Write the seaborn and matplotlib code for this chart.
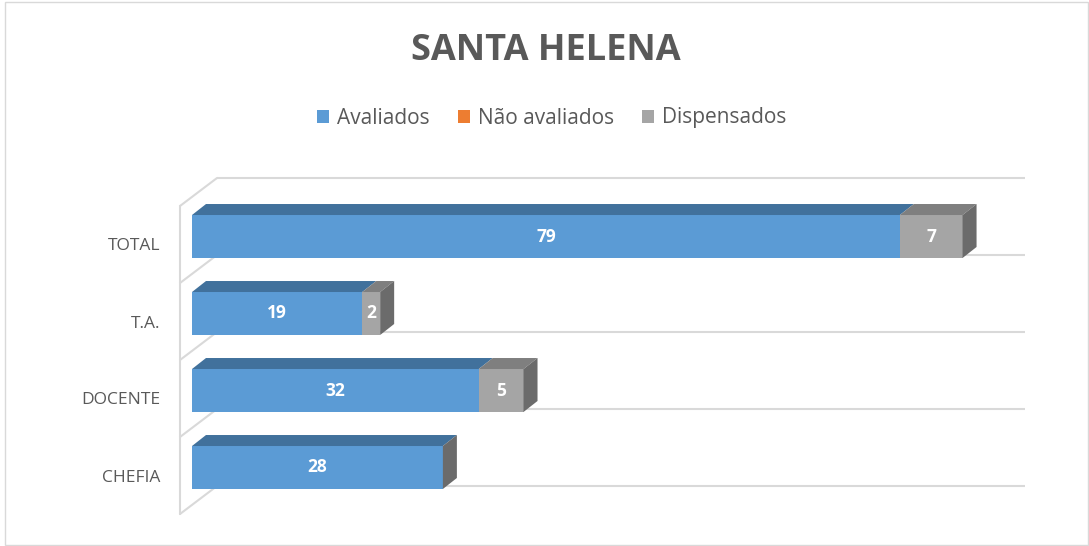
import matplotlib
matplotlib.use("Agg")
import matplotlib.pyplot as plt
from matplotlib.patches import Polygon, Patch, Rectangle
from matplotlib.transforms import ScaledTranslation
import seaborn as sns
import pandas as pd

# ---- data ----
categories = ["TOTAL", "T.A.", "DOCENTE", "CHEFIA"]
avaliados = [79, 19, 32, 28]
nao_avaliados = [0, 0, 0, 0]
dispensados = [7, 2, 5, 0]
series_names = ["Avaliados", "Não avaliados", "Dispensados"]
title = "SANTA HELENA"

# ---- style ----
C_BLUE, C_BLUE_TOP = "#5B9BD5", "#41719C"
C_ORANGE = "#ED7D31"
C_GRAY, C_GRAY_TOP, C_SIDE = "#A5A5A5", "#7F7F7F", "#6B6B6B"
C_TEXT, C_GRID = "#595959", "#D9D9D9"

sns.set_theme(style="white")
plt.rcParams["font.family"] = ["Open Sans", "DejaVu Sans"]

W, H = 1089, 546
fig = plt.figure(figsize=(W / 100, H / 100), dpi=100)
ax = fig.add_axes([170 / W, 1 - 525 / H, 870 / W, 360 / H])

df = pd.DataFrame({
    "cat": categories,
    "aval": avaliados,
    "nao": nao_avaliados,
    "disp": dispensados,
})
df["total"] = df["aval"] + df["nao"] + df["disp"]

BAR_H = 0.558
sns.barplot(data=df, x="total", y="cat", orient="h", color=C_GRAY,
            width=BAR_H, saturation=1, ax=ax, zorder=3, linewidth=0,
            edgecolor="none")
n = len(categories)
gray_patches = list(ax.patches[:n])
sns.barplot(data=df, x="aval", y="cat", orient="h", color=C_BLUE,
            width=BAR_H, saturation=1, ax=ax, zorder=4, linewidth=0,
            edgecolor="none")
blue_patches = list(ax.patches[n:2 * n])

xmin = -22 / 8.96
xmax = xmin + 870 / 8.96
ax.set_xlim(xmin, xmax)
ax.set_ylim((525 - 236.5) / 77, (165 - 236.5) / 77)

# depth of bars (data units)
DX, DY = 14 / 8.96, 11 / 77


def add_top(x0, x1, ytop, color, z):
    ax.add_patch(Polygon([(x0, ytop), (x1, ytop), (x1 + DX, ytop - DY),
                          (x0 + DX, ytop - DY)], closed=True,
                         facecolor=color, edgecolor="none", zorder=z))


def add_side(x1, ytop, ybot, z):
    ax.add_patch(Polygon([(x1, ytop), (x1 + DX, ytop - DY),
                          (x1 + DX, ybot - DY), (x1, ybot)], closed=True,
                         facecolor=C_SIDE, edgecolor="none", zorder=z))


for i in range(n):
    gp, bp = gray_patches[i], blue_patches[i]
    ytop = gp.get_y()
    ybot = gp.get_y() + gp.get_height()
    xb = bp.get_x() + bp.get_width()
    xg = gp.get_x() + gp.get_width()
    add_top(bp.get_x(), xb, ytop, C_BLUE_TOP, 5)
    if xg > xb:
        add_top(xb, xg, ytop, C_GRAY_TOP, 5)
    add_side(max(xb, xg), ytop, ybot, 5)
    yc = ytop + gp.get_height() / 2
    ax.text(bp.get_x() + bp.get_width() / 2, yc, f"{avaliados[i]}",
            ha="center", va="center", color="white", fontsize=12.5,
            fontweight="bold", zorder=6)
    if dispensados[i] > 0:
        ax.text((xb + xg) / 2, yc, f"{dispensados[i]}", ha="center",
                va="center", color="white", fontsize=12.5, fontweight="bold",
                zorder=6)

# walls / gridlines (3D floor look)
FRONT_X = -12 / 8.96
BACK_X = 25 / 8.96
RIGHT_X = 833 / 8.96
for k in range(n + 1):
    yb = (178 - 236.5) / 77 + k
    yf = (206 - 236.5) / 77 + k
    ax.plot([BACK_X, RIGHT_X], [yb, yb], color=C_GRID, lw=1.5, zorder=1,
            solid_capstyle="butt")
    ax.plot([FRONT_X, BACK_X], [yf, yb], color=C_GRID, lw=1.5, zorder=1)
ax.plot([FRONT_X, FRONT_X], [(206 - 236.5) / 77, (206 - 236.5) / 77 + n],
        color=C_GRID, lw=1.5, zorder=1)

for s in ax.spines.values():
    s.set_visible(False)
ax.set_xlabel("")
ax.set_ylabel("")
ax.set_xticks([])
ax.tick_params(axis="y", length=0, pad=7, labelsize=12.5, labelcolor=C_TEXT)
ax.grid(False)
shift = ScaledTranslation(0, -8 / 100, fig.dpi_scale_trans)
for lab in ax.get_yticklabels():
    lab.set_transform(lab.get_transform() + shift)

# title and legend
fig.text(546 / W, 1 - 51 / H, title, ha="center", va="center",
         fontsize=26, fontweight="bold", color=C_TEXT)
handles = [Patch(facecolor=c, edgecolor="none") for c in (C_BLUE, C_ORANGE, C_GRAY)]
leg = fig.legend(handles, series_names, loc="center", ncol=3,
                 bbox_to_anchor=(552 / W, 1 - 118 / H), frameon=False,
                 fontsize=15, handlelength=0.58, handleheight=0.58,
                 handletextpad=0.38, columnspacing=1.35, labelcolor=C_TEXT)

# chart area border
fig.patches.append(Rectangle((4.5 / W, 1.5 / H), 1083 / W, 543 / H,
                             transform=fig.transFigure, fill=False,
                             edgecolor=C_GRID, lw=1))

fig.savefig("out.png", dpi=100)
